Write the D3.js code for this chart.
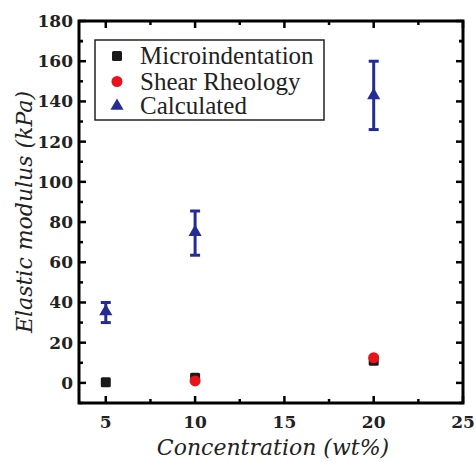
<!DOCTYPE html>
<html>
<head>
<meta charset="utf-8">
<script src="https://cdn.jsdelivr.net/npm/d3@7"></script>
<style>
  body { margin: 0; background: #fff; }
  svg { display: block; }
</style>
</head>
<body>
<svg id="chart"></svg>
<script>
// data
const seriesNames = ['Microindentation', 'Shear Rheology', 'Calculated'];
const microX = [5, 10, 20];
const microY = [0.3, 2.5, 11];
const shearX = [10, 20];
const shearY = [1, 12.5];
const calcX = [5, 10, 20];
const calcY = [35.5, 75, 143];
const calcErrLow = [30, 63.5, 126];
const calcErrHigh = [40, 85.5, 160];
const xTicks = [5, 10, 15, 20, 25];
const yTicks = [0, 20, 40, 60, 80, 100, 120, 140, 160, 180];

const w = 476, h = 462;
const m = {left: 79, top: 21, right: 13, bottom: 59};

const serif = '"DejaVu Serif", "Liberation Serif", serif';

const svg = d3.select('#chart').attr('width', w).attr('height', h);

const xScale = d3.scaleLinear().domain([3.5, 25]).range([m.left, w - m.right]);
const yScale = d3.scaleLinear().domain([-10, 180]).range([h - m.bottom, m.top]);

const blue = '#252b94';
const red = '#e8141c';
const black = '#1a1a1a';

// ticks, all pointing inward
const xMinor = d3.range(5, 25, 2.5).filter(v => v % 5 !== 0);
const yMinor = d3.range(-10, 180, 20).concat([170]);

const axisG = svg.append('g').attr('stroke', '#000').attr('stroke-width', 2.5);

function tickRow(vals, len, side) {
  vals.forEach(v => {
    if (side === 'bottom') axisG.append('line').attr('x1', xScale(v)).attr('x2', xScale(v)).attr('y1', yScale(-10)).attr('y2', yScale(-10) - len);
    if (side === 'top') axisG.append('line').attr('x1', xScale(v)).attr('x2', xScale(v)).attr('y1', yScale(180)).attr('y2', yScale(180) + len);
    if (side === 'left') axisG.append('line').attr('y1', yScale(v)).attr('y2', yScale(v)).attr('x1', xScale(3.5)).attr('x2', xScale(3.5) + len);
    if (side === 'right') axisG.append('line').attr('y1', yScale(v)).attr('y2', yScale(v)).attr('x1', xScale(25)).attr('x2', xScale(25) - len);
  });
}
tickRow(xTicks, 7, 'bottom'); tickRow(xMinor, 4, 'bottom');
tickRow(xTicks, 7, 'top'); tickRow(xMinor, 4, 'top');
tickRow(yTicks, 7, 'left'); tickRow(yMinor, 4, 'left');
tickRow(yTicks, 7, 'right'); tickRow(yMinor, 4, 'right');

axisG.append('rect')
  .attr('x', xScale(3.5)).attr('y', yScale(180))
  .attr('width', xScale(25) - xScale(3.5)).attr('height', yScale(-10) - yScale(180))
  .attr('fill', 'none').attr('stroke-width', 3);

// tick labels
const lab = svg.append('g');
lab.selectAll('.xl').data(xTicks).enter().append('text')
  .style('font-family', serif).style('font-weight', 'bold').style('font-size', '17px').style('fill', '#222')
  .attr('x', d => xScale(d)).attr('y', 428).attr('text-anchor', 'middle').text(d => d);
lab.selectAll('.yl').data(yTicks).enter().append('text')
  .style('font-family', serif).style('font-weight', 'bold').style('font-size', '17px').style('fill', '#222')
  .attr('x', 73).attr('y', d => yScale(d) + 6).attr('text-anchor', 'end').text(d => d);

// axis titles
svg.append('text')
  .style('font-family', serif).style('font-style', 'italic').style('font-size', '22px').style('fill', '#222')
  .attr('x', (xScale(3.5) + xScale(25)) / 2 + 2).attr('y', 455)
  .attr('text-anchor', 'middle')
  .text('Concentration (wt%)');

svg.append('text')
  .style('font-family', serif).style('font-style', 'italic').style('font-size', '22px').style('fill', '#222')
  .attr('transform', `translate(32, ${(yScale(-10) + yScale(180)) / 2}) rotate(-90)`)
  .attr('text-anchor', 'middle')
  .text('Elastic modulus (kPa)');

const triangle = d3.symbol().type(d3.symbolTriangle).size(75);

// points
const plot = svg.append('g');
plot.selectAll('.sq').data(microX).enter().append('rect')
  .attr('x', d => xScale(d) - 5).attr('y', (d, i) => yScale(microY[i]) - 5)
  .attr('width', 10).attr('height', 10).attr('rx', 1.5).attr('fill', black);

plot.selectAll('.ci').data(shearX).enter().append('circle')
  .attr('cx', d => xScale(d)).attr('cy', (d, i) => yScale(shearY[i]))
  .attr('r', 5.5).attr('fill', red);

const errG = plot.append('g').attr('stroke', blue).attr('stroke-width', 3);
calcX.forEach((x, i) => {
  errG.append('line').attr('x1', xScale(x)).attr('x2', xScale(x))
    .attr('y1', yScale(calcErrLow[i])).attr('y2', yScale(calcErrHigh[i]));
  [calcErrLow[i], calcErrHigh[i]].forEach(v => {
    errG.append('line').attr('x1', xScale(x) - 5).attr('x2', xScale(x) + 5)
      .attr('y1', yScale(v)).attr('y2', yScale(v));
  });
});
plot.selectAll('.tr').data(calcX).enter().append('path')
  .attr('d', triangle)
  .attr('transform', (d, i) => `translate(${xScale(d)}, ${yScale(calcY[i])})`)
  .attr('fill', blue);

// legend
const leg = svg.append('g');
leg.append('rect').attr('x', 95).attr('y', 40).attr('width', 229).attr('height', 80)
  .attr('fill', '#fff').attr('stroke', '#222').attr('stroke-width', 1.5);
const rowY = [56, 81.5, 106];
leg.append('rect').attr('x', 112).attr('y', rowY[0] - 5).attr('width', 10).attr('height', 10).attr('rx', 1.5).attr('fill', black);
leg.append('circle').attr('cx', 117).attr('cy', rowY[1]).attr('r', 5.5).attr('fill', red);
leg.append('path').attr('d', triangle).attr('transform', `translate(117, ${rowY[2]})`).attr('fill', blue);
leg.selectAll('.lt').data(seriesNames).enter().append('text')
  .style('font-family', '"Liberation Serif", "Times New Roman", serif').style('font-size', '25px').style('fill', '#222')
  .attr('x', 140).attr('y', (d, i) => rowY[i] + 8)
  .text(d => d);
</script>
</body>
</html>
